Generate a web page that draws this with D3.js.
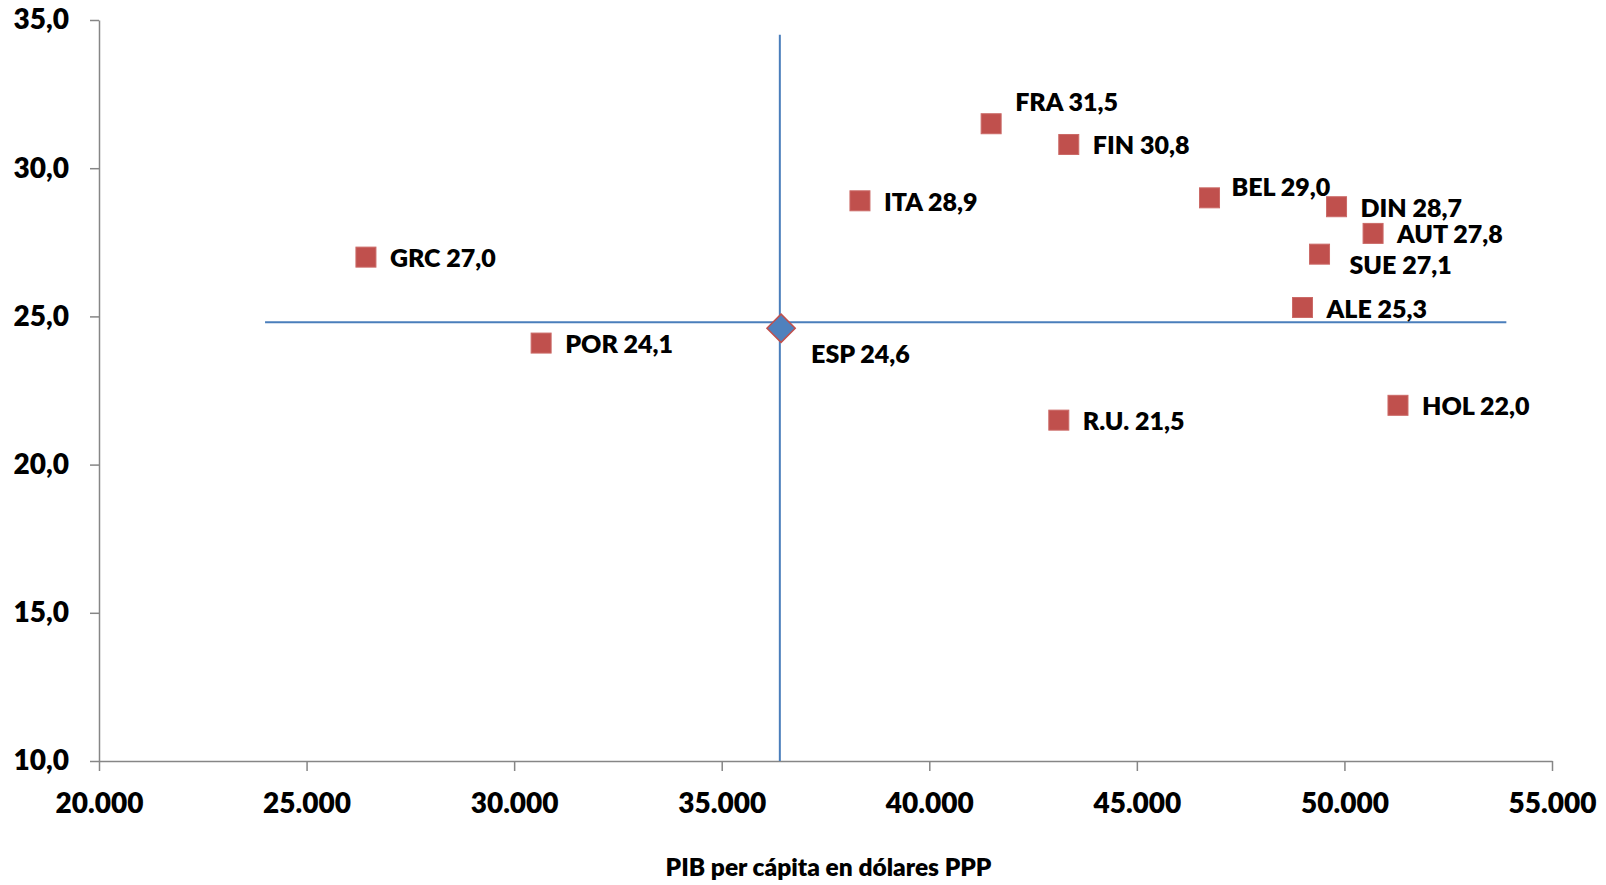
<!DOCTYPE html>
<html>
<head>
<meta charset="utf-8">
<script src="https://cdn.jsdelivr.net/npm/d3@7"></script>
<style>
  html, body { margin: 0; padding: 0; background: #fff; }
  svg { display: block; font-family: Lato, "Open Sans", sans-serif; font-weight: 800; }
</style>
</head>
<body>
<svg id="chart" width="1606" height="885"></svg>
<script>
// ---- data ----
const countries = ["GRC", "POR", "ESP", "ITA", "FRA", "FIN", "R.U.", "BEL", "ALE", "SUE", "DIN", "AUT", "HOL"];
const gdpPerCapita = [26430, 30650, 36430, 38330, 41490, 43360, 43120, 46750, 48990, 49400, 49810, 50690, 51290];
const indicator = [27.0, 24.1, 24.6, 28.9, 31.5, 30.8, 21.5, 29.0, 25.3, 27.1, 28.7, 27.8, 22.0];
const highlighted = "ESP";
const refX = [36400];           // vertical reference line (GDP)
const refXSpan = [10, 34.5];     // its extent on the y scale
const refY = [24.8];            // horizontal reference line
const refYSpan = [24000, 53900]; // its extent on the x scale
const xTicks = [20000, 25000, 30000, 35000, 40000, 45000, 50000, 55000];
const yTicks = [10, 15, 20, 25, 30, 35];
const xTitle = "PIB per cápita en dólares PPP";

// ---- label placement (layout only) ----
const labelOffset = { "FRA": [24, -22], "BEL": [22, -11], "SUE": [30, 11], "ESP": [30, 26] };
const defaultOffset = [24, 1];

// ---- layout ----
const W = 1606, H = 885;
const margin = { left: 99, right: 54, top: 20, bottom: 124 };
const svg = d3.select("#chart");

const x = d3.scaleLinear().domain([20000, 55000]).range([margin.left, W - margin.right]);
const y = d3.scaleLinear().domain([10, 35]).range([H - margin.bottom, margin.top]);

const es = d3.formatLocale({ decimal: ",", thousands: ".", grouping: [3], currency: ["", "€"] });
const fmtX = es.format(",.0f");
const fmtY = es.format(".1f");

const axisColor = "#868686";

// y axis
const gy = svg.append("g")
  .attr("transform", `translate(${margin.left},0)`)
  .call(d3.axisLeft(y).tickValues(yTicks).tickFormat(fmtY).tickSize(9).tickSizeOuter(0).tickPadding(21));
// x axis
const gx = svg.append("g")
  .attr("transform", `translate(0,${H - margin.bottom})`)
  .call(d3.axisBottom(x).tickValues(xTicks).tickFormat(fmtX).tickSize(10).tickSizeOuter(0).tickPadding(22));

[gx, gy].forEach(g => {
  g.select(".domain").attr("stroke", axisColor).attr("stroke-width", 1.5);
  g.selectAll(".tick line").attr("stroke", axisColor).attr("stroke-width", 1.5);
  g.selectAll(".tick text").attr("fill", "#000").style("font-size", "28px")
    .style("font-family", "Lato, sans-serif").style("font-weight", "800");
});

// axis title
svg.append("text")
  .attr("x", (x.range()[0] + x.range()[1]) / 2 + 3)
  .attr("y", 876)
  .attr("text-anchor", "middle")
  .style("font-size", "24.5px")
  .attr("fill", "#000")
  .text(xTitle);

// reference lines
const lineColor = "#4A7EBB";
svg.append("g").selectAll("line.v").data(refX).join("line")
  .attr("x1", d => x(d)).attr("x2", d => x(d))
  .attr("y1", y(refXSpan[0])).attr("y2", y(refXSpan[1]))
  .attr("stroke", lineColor).attr("stroke-width", 2);
svg.append("g").selectAll("line.h").data(refY).join("line")
  .attr("y1", d => y(d)).attr("y2", d => y(d))
  .attr("x1", x(refYSpan[0])).attr("x2", x(refYSpan[1]))
  .attr("stroke", lineColor).attr("stroke-width", 2);

// points
const points = countries.map((c, i) => ({ name: c, gdp: gdpPerCapita[i], v: indicator[i] }));
const gPts = svg.append("g");
gPts.selectAll("rect.pt").data(points.filter(d => d.name !== highlighted)).join("rect")
  .attr("class", "pt")
  .attr("x", d => x(d.gdp) - 10).attr("y", d => y(d.v) - 10)
  .attr("width", 20).attr("height", 20)
  .attr("fill", "#C0504D").attr("stroke", "#CB6A67").attr("stroke-width", 1);

gPts.selectAll("path.hl").data(points.filter(d => d.name === highlighted)).join("path")
  .attr("class", "hl")
  .attr("d", d3.symbol(d3.symbolSquare, 400)())
  .attr("transform", d => `translate(${x(d.gdp)},${y(d.v)}) rotate(45)`)
  .attr("fill", "#4F81BD").attr("stroke", "#C0504D").attr("stroke-width", 1.5);

// labels
svg.append("g").selectAll("text.lbl").data(points).join("text")
  .attr("class", "lbl")
  .attr("x", d => x(d.gdp) + (labelOffset[d.name] || defaultOffset)[0])
  .attr("y", d => y(d.v) + (labelOffset[d.name] || defaultOffset)[1])
  .attr("dy", "0.36em")
  .style("font-size", "25px")
  .attr("fill", "#000")
  .text(d => `${d.name} ${fmtY(d.v)}`);
</script>
</body>
</html>
